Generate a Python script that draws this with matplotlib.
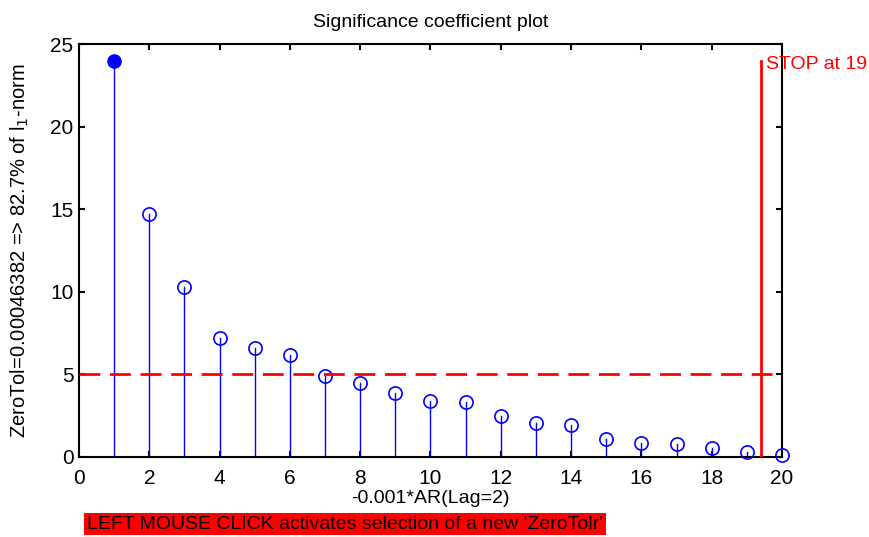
import matplotlib
matplotlib.use("Agg")
import matplotlib.pyplot as plt
import numpy as np

plt.rcParams.update({"font.family": ["Liberation Sans", "DejaVu Sans"],
                     "xtick.direction": "in", "ytick.direction": "in",
                     "xtick.top": True, "ytick.right": True})

# significance coefficients (abs value, scaled) per lag
lags = np.arange(1, 21)
coef = [24.0, 14.7, 10.3, 7.2, 6.6, 6.2, 4.9, 4.5, 3.9, 3.4,
        3.3, 2.5, 2.05, 1.95, 1.1, 0.85, 0.8, 0.55, 0.3, 0.1]
zero_tol_level = 5
stop_x = 19.4
stop_top = 24

fig = plt.figure(figsize=(8.7, 5.37), dpi=100)
ax = fig.add_axes([0.0908, 0.149, 0.808, 0.769])

BLUE = "#0000FF"
RED = "#FF0000"
for x, y in zip(lags, coef):
    ax.plot([x, x], [0, y], color=BLUE, lw=1.0, zorder=2)
ax.plot(lags[1:], coef[1:], "o", ms=9.5, mfc="none", mec=BLUE, mew=1.2,
        clip_on=False, zorder=3)
ax.plot(lags[:1], coef[:1], "o", ms=9.5, color=BLUE, clip_on=False, zorder=3)

ax.axhline(zero_tol_level, color=RED, lw=2, ls=(0, (7.5, 3.5)), zorder=4)
ax.plot([stop_x, stop_x], [0, stop_top], color=RED, lw=2, zorder=4)
ax.text(stop_x + 0.15, stop_top + 0.25, "STOP at 19", color=RED,
        fontsize=14, va="top", ha="left", clip_on=False)

ax.set_xlim(0, 20)
ax.set_ylim(0, 25)
ax.set_xticks(range(0, 21, 2))
ax.set_yticks(range(0, 26, 5))
ax.tick_params(labelsize=15, length=4, width=1.5)
ax.tick_params(axis="x", pad=9)
ax.tick_params(axis="y", pad=4)
for s in ax.spines.values():
    s.set_linewidth(1.5)

ax.set_title("Significance coefficient plot", fontsize=14, pad=12)
ax.set_xlabel("-0.001*AR(Lag=2)", fontsize=14, labelpad=1)
ax.set_ylabel("ZeroTol=0.00046382 => 82.7% of l$_1$-norm", fontsize=14.5,
              labelpad=14)

fig.text(87 / 870, 0.024, "LEFT MOUSE CLICK activates selection of a new 'ZeroTolr'",
         fontsize=14, va="center", ha="left",
         bbox=dict(facecolor=RED, edgecolor="none", pad=2))

fig.savefig("out.png", dpi=100)
